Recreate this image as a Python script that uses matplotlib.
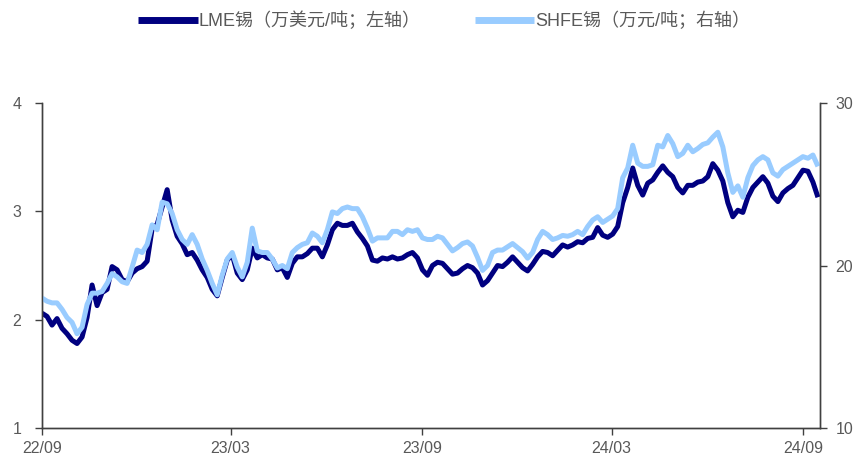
import matplotlib
matplotlib.use("Agg")
import matplotlib.pyplot as plt
import matplotlib.dates as mdates
import numpy as np
import pandas as pd

plt.rcParams['font.family'] = ['Liberation Sans', 'Noto Sans CJK SC', 'DejaVu Sans']

# LME tin, 10k USD/t (left axis), every ~5 days
lme = [2.06, 2.03, 1.95, 2.01, 1.92, 1.87, 1.81, 1.78, 1.84, 2.02,
       2.32, 2.13, 2.25, 2.28, 2.49, 2.46, 2.37, 2.35, 2.43, 2.47,
       2.49, 2.54, 2.84, 2.88, 3.04, 3.20, 2.92, 2.77, 2.70, 2.60,
       2.62, 2.55, 2.46, 2.39, 2.28, 2.22, 2.39, 2.55, 2.60, 2.43,
       2.37, 2.46, 2.66, 2.57, 2.60, 2.57, 2.56, 2.46, 2.48, 2.39,
       2.52, 2.58, 2.58, 2.61, 2.66, 2.66, 2.58, 2.69, 2.83, 2.89,
       2.87, 2.87, 2.89, 2.81, 2.75, 2.68, 2.55, 2.54, 2.57, 2.56,
       2.58, 2.56, 2.57, 2.60, 2.62, 2.57, 2.46, 2.41, 2.50, 2.53,
       2.52, 2.47, 2.42, 2.43, 2.47, 2.50, 2.48, 2.43, 2.32, 2.36,
       2.43, 2.50, 2.49, 2.53, 2.58, 2.53, 2.48, 2.45, 2.51, 2.58,
       2.63, 2.62, 2.59, 2.64, 2.69, 2.67, 2.69, 2.72, 2.71, 2.75,
       2.76, 2.85, 2.78, 2.76, 2.79, 2.86, 3.08, 3.22, 3.40, 3.24,
       3.15, 3.26, 3.29, 3.36, 3.42, 3.36, 3.32, 3.22, 3.17, 3.24,
       3.24, 3.27, 3.28, 3.32, 3.44, 3.38, 3.28, 3.08, 2.95, 3.01,
       2.99, 3.13, 3.22, 3.27, 3.32, 3.26, 3.14, 3.09, 3.17, 3.21,
       3.24, 3.31, 3.38, 3.37, 3.27, 3.13]

# SHFE tin, 10k CNY/t (right axis)
shfe = [18.0, 17.8, 17.7, 17.7, 17.3, 16.8, 16.5, 15.8, 16.2, 17.6,
        18.3, 18.3, 18.4, 18.9, 19.5, 19.3, 19.0, 18.9, 19.9, 20.95,
        20.8, 21.3, 22.5, 22.2, 23.9, 23.8, 23.2, 22.2, 21.6, 21.3,
        21.9, 21.3, 20.4, 19.7, 18.9, 18.2, 19.4, 20.4, 20.8, 19.9,
        19.3, 20.2, 22.3, 20.9, 20.8, 20.8, 20.4, 19.85, 20.0, 19.8,
        20.8, 21.1, 21.3, 21.4, 22.0, 21.8, 21.4, 22.2, 23.3, 23.2,
        23.5, 23.6, 23.5, 23.5, 23.0, 22.3, 21.5, 21.7, 21.7, 21.7,
        22.1, 22.1, 21.9, 22.2, 22.1, 22.2, 21.7, 21.6, 21.6, 21.8,
        21.7, 21.3, 20.9, 21.1, 21.35, 21.45, 21.2, 20.5, 19.7, 20.0,
        20.8, 20.95, 20.95, 21.15, 21.35, 21.1, 20.85, 20.45, 20.8, 21.6,
        22.1, 21.9, 21.6, 21.7, 21.85, 21.8, 21.9, 22.1, 21.9, 22.4,
        22.8, 23.0, 22.65, 22.85, 23.05, 23.5, 25.4, 26.0, 27.4, 26.3,
        26.1, 26.1, 26.2, 27.4, 27.3, 28.0, 27.5, 26.7, 26.9, 27.4,
        27.0, 27.2, 27.45, 27.55, 27.9, 28.2, 27.3, 25.7, 24.5, 24.9,
        24.2, 25.4, 26.15, 26.5, 26.7, 26.5, 25.7, 25.5, 25.9, 26.1,
        26.3, 26.5, 26.7, 26.6, 26.8, 26.1]

dates = pd.date_range("2022-09-01", "2024-09-15", periods=len(lme))
tick_dates = pd.to_datetime(["2022-09-01", "2023-03-01", "2023-09-01",
                             "2024-03-01", "2024-09-01"])

DARK = '#000080'
LIGHT = '#99CCFF'
GREY = '#595959'

fig = plt.figure(figsize=(8.61, 4.59), dpi=100)
ax = fig.add_axes([0.0488, 0.0675, 0.9036, 0.7081])
ax2 = ax.twinx()

l1, = ax.plot(dates, lme, color=DARK, lw=3.6, solid_capstyle='butt')
l2, = ax2.plot(dates, shfe, color=LIGHT, lw=3.6, solid_capstyle='butt')

ax.set_xlim(pd.Timestamp("2022-09-01"), pd.Timestamp("2024-09-17"))
ax.set_ylim(1, 4)
ax2.set_ylim(10, 30)
ax.set_yticks([1, 2, 3, 4])
ax2.set_yticks([10, 20, 30])
ax.set_xticks(tick_dates)
ax.xaxis.set_major_formatter(mdates.DateFormatter('%y/%m'))

for a in (ax, ax2):
    a.spines['top'].set_visible(False)
    for s in ('left', 'right', 'bottom'):
        a.spines[s].set_color('#404040')
        a.spines[s].set_linewidth(1.0)
    a.tick_params(colors='#404040', labelcolor=GREY, labelsize=11.5,
                  length=5, width=1.0, direction='out')
ax.tick_params(axis='x', pad=4)
ax.tick_params(axis='y', pad=10)
ax2.tick_params(axis='y', pad=6)

fig.legend([l1, l2], ['LME锡（万美元/吨；左轴）', 'SHFE锡（万元/吨；右轴）'],
           loc='center', bbox_to_anchor=(0.516, 0.955), ncol=2, frameon=False,
           fontsize=13, handlelength=3.3, handletextpad=0.05, columnspacing=3.0,
           labelcolor=GREY)
for h in fig.legends[0].legend_handles:
    h.set_linewidth(5.0)

fig.savefig('out.png', dpi=100)
